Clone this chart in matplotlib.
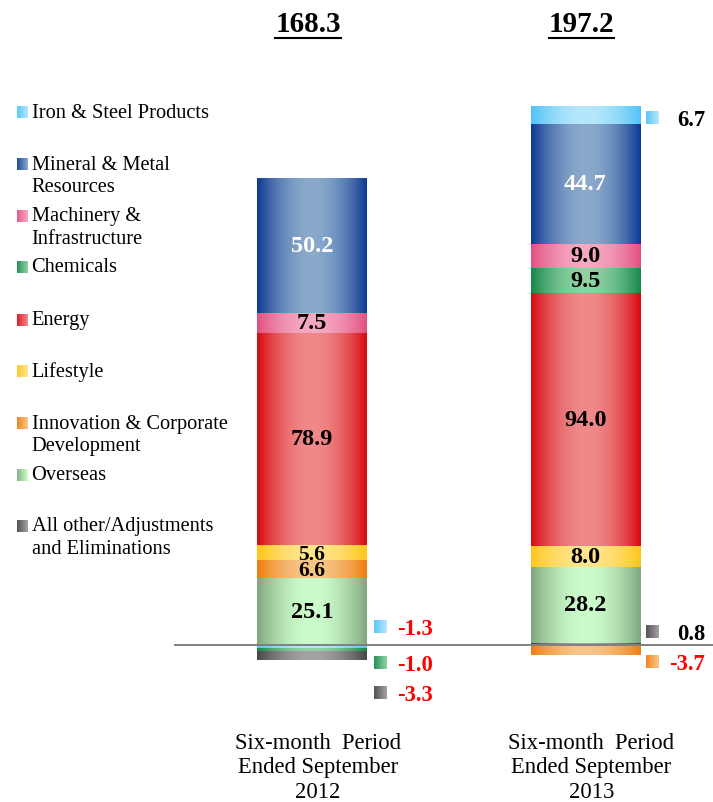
import numpy as np
import matplotlib
matplotlib.use("Agg")
import matplotlib.pyplot as plt

# data
segments = ['Iron & Steel Products', 'Mineral & Metal\nResources', 'Machinery &\nInfrastructure',
            'Chemicals', 'Energy', 'Lifestyle', 'Innovation & Corporate\nDevelopment',
            'Overseas', 'All other/Adjustments\nand Eliminations']
v2012 = [-1.3, 50.2, 7.5, -1.0, 78.9, 5.6, 6.6, 25.1, -3.3]
v2013 = [6.7, 44.7, 9.0, 9.5, 94.0, 8.0, -3.7, 28.2, 0.8]
totals = [168.3, 197.2]
periods = ['Six-month  Period\nEnded September\n2012', 'Six-month  Period\nEnded September\n2013']

# edge colour, centre colour for each segment
edge_c = ['#4fc3f7', '#0e3a93', '#e2507f', '#17884a', '#d80a12', '#ffc61a', '#ef7d0f', '#7fa67f', '#474747']
mid_c = ['#b6e7fd', '#8aa9cb', '#f5a9c3', '#8fd3a3', '#f08a8a', '#ffe58a', '#f8c68a', '#ccfccc', '#a3a3a3']
txt_c = ['black', 'white', 'black', 'black', 'black', 'black', 'black', 'black', 'black']

W, H = 713, 803
fig = plt.figure(figsize=(W / 100, H / 100), dpi=100)
ax = fig.add_axes([0, 0, 1, 1])
ppu = 2.685  # pixels per unit
y0 = H - 646
ax.set_xlim(0, W)
ax.set_ylim(-y0 / ppu, (H - y0) / ppu)
ax.axis('off')

serif = 'Liberation Serif'


def grad(c1, c2, n=80, half=False):
    a = np.array(matplotlib.colors.to_rgb(c1))
    b = np.array(matplotlib.colors.to_rgb(c2))
    t = np.linspace(0, 1, n)
    if half:
        f = 0.15 + 0.85 * t
    else:
        f = np.sin(np.pi * t) ** 0.9
    return (a[None, :] + (b - a)[None, :] * f[:, None])[None, :, :]


def py(p):
    # pixel row (from top) -> data y
    return (H - p - y0) / ppu


def gbox(x0, x1, ya, yb, i):
    ax.imshow(grad(edge_c[i], mid_c[i]), extent=(x0, x1, ya, yb), aspect='auto',
              interpolation='bilinear', zorder=2)


centers = [312, 585.5]
width = 110
# outside label placement (pixel rows from top) for each bar
out_pos = [{0: 630, 3: 666, 8: 696}, {0: 121, 8: 635, 6: 665}]
out_x = [(380, 433), (652, 705)]

for b, vals in enumerate([v2012, v2013]):
    cx = centers[b]
    x0, x1 = cx - width / 2, cx + width / 2
    # positive stack from bottom (reverse legend order)
    pos = 0
    for i in reversed(range(len(vals))):
        v = vals[i]
        if v > 0:
            gbox(x0, x1, pos, pos + v, i)
            if v >= 5 and i != 0:
                small = v < 7
                ax.text(cx, pos + v * (0.42 if small else 0.5), f'{v:.1f}', ha='center', va='center',
                        color=txt_c[i], fontsize=15.5 if small else 17.5, fontweight='bold',
                        family=serif, zorder=3)
            pos += v
    neg = 0
    for i in range(len(vals)):
        v = vals[i]
        if v < 0:
            gbox(x0, x1, neg + v, neg, i)
            neg += v
    for i, prow in out_pos[b].items():
        v = vals[i]
        mx, tx = out_x[b]
        ax.imshow(grad(edge_c[i], mid_c[i], 20, half=True), extent=(mx - 6.5, mx + 6.5, py(prow + 4), py(prow - 9)),
                  aspect='auto', interpolation='bilinear', zorder=2)
        ax.text(tx, py(prow), f'{v:.1f}', ha='right', va='center', fontsize=16.3, fontweight='bold',
                family=serif, color='red' if v < 0 else 'black')
    # total on top
    t = ax.text(cx - 4, py(25), f'{totals[b]:.1f}', ha='center', va='center', fontsize=21,
                fontweight='bold', family=serif)
    # period label
    ax.text(cx + 6, py(768), periods[b], ha='center', va='center', fontsize=16.3, family=serif,
            linespacing=1.2)

ax.plot([175, W], [0, 0], color='#808080', lw=1.4, zorder=4)

# underline the totals
fig.canvas.draw()
r = fig.canvas.get_renderer()
for t in ax.texts:
    if t.get_fontsize() == 21:
        bb = t.get_window_extent(r)
        fig.add_artist(plt.Line2D([bb.x0 / W, bb.x1 / W], [(H - 39) / H, (H - 39) / H],
                                  color='black', lw=1.5))

# legend
leg_rows = [113, 165, 217, 268, 321, 372, 424, 476, 527]
for i, lab in enumerate(segments):
    r0 = leg_rows[i]
    ax.imshow(grad(edge_c[i], mid_c[i], 20, half=True), extent=(16.5, 27, py(r0 + 6), py(r0 - 6)),
              aspect='auto', interpolation='bilinear', zorder=2)
    for k, line in enumerate(lab.split('\n')):
        ax.text(31.5, py(r0 + 23 * k), line, ha='left', va='center', fontsize=14.7, family=serif)

fig.savefig('out.png', dpi=100)
